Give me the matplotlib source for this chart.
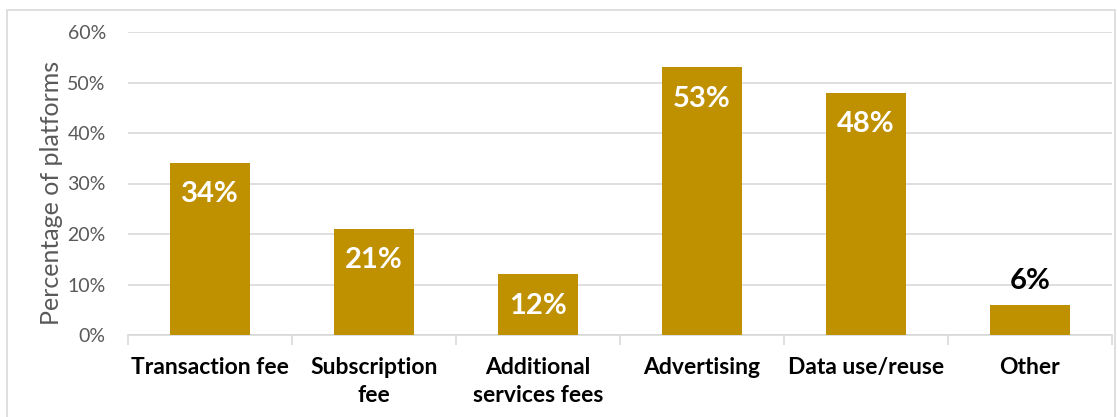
import matplotlib
matplotlib.use("Agg")
import matplotlib.pyplot as plt
from matplotlib.patches import Rectangle

# data
categories = ["Transaction fee", "Subscription\nfee", "Additional\nservices fees",
              "Advertising", "Data use/reuse", "Other"]
values = [34, 21, 12, 53, 48, 6]
label_inside = [True, True, True, True, True, False]

y_ticks = [0, 10, 20, 30, 40, 50, 60]

gold = "#BF9000"
grid_col = "#D9D9D9"
text_gray = "#595959"

plt.rcParams["font.family"] = ["Lato", "DejaVu Sans"]

fig = plt.figure(figsize=(11.18, 4.17), dpi=100)
ax = fig.add_axes([128 / 1118, 1 - 335 / 417, (1112 - 128) / 1118, (335 - 32) / 417])

x = list(range(len(categories)))
bars = ax.bar(x, values, width=0.49, color=gold, zorder=3)

ax.set_xlim(-0.5, len(categories) - 0.5)
ax.set_ylim(0, 60)
ax.set_yticks(y_ticks)
ax.set_yticklabels([f"{t}%" for t in y_ticks], color=text_gray, fontsize=14)
ax.grid(axis="y", color=grid_col, linewidth=1.2, zorder=0)
ax.set_axisbelow(True)

for s in ["top", "right", "left"]:
    ax.spines[s].set_visible(False)
ax.spines["bottom"].set_color(grid_col)
ax.spines["bottom"].set_linewidth(1.2)
ax.tick_params(axis="y", length=0, pad=16)

# category labels in the middle, tick marks on the boundaries
ax.set_xticks([i - 0.5 for i in range(len(categories) + 1)])
ax.set_xticklabels([])
ax.tick_params(axis="x", length=7, color=grid_col, width=1.2)
for i, c in enumerate(categories):
    ax.text(i, -4.4, c, ha="center", va="top", fontsize=16.5, fontweight="bold",
            color="black", linespacing=1.4)

ax.set_ylabel("Percentage of platforms", fontsize=18, color=text_gray)
ax.yaxis.set_label_coords(-0.066, 0.47)

for b, v, inside in zip(bars, values, label_inside):
    cx = b.get_x() + b.get_width() / 2
    if inside:
        ax.text(cx, v - 3.6, f"{v}%", ha="center", va="top", color="white",
                fontsize=21, fontweight="bold", zorder=4)
    else:
        ax.text(cx, v + 2.2, f"{v}%", ha="center", va="bottom", color="black",
                fontsize=21, fontweight="bold", zorder=4)

# light frame around the chart area
fig.patches.append(Rectangle((7 / 1118, -0.05), (1115 - 7) / 1118, 1.05 - 10 / 417,
                             transform=fig.transFigure, fill=False,
                             edgecolor=grid_col, linewidth=1.2))

plt.savefig("out.png", dpi=100, facecolor="white")
plt.close()
